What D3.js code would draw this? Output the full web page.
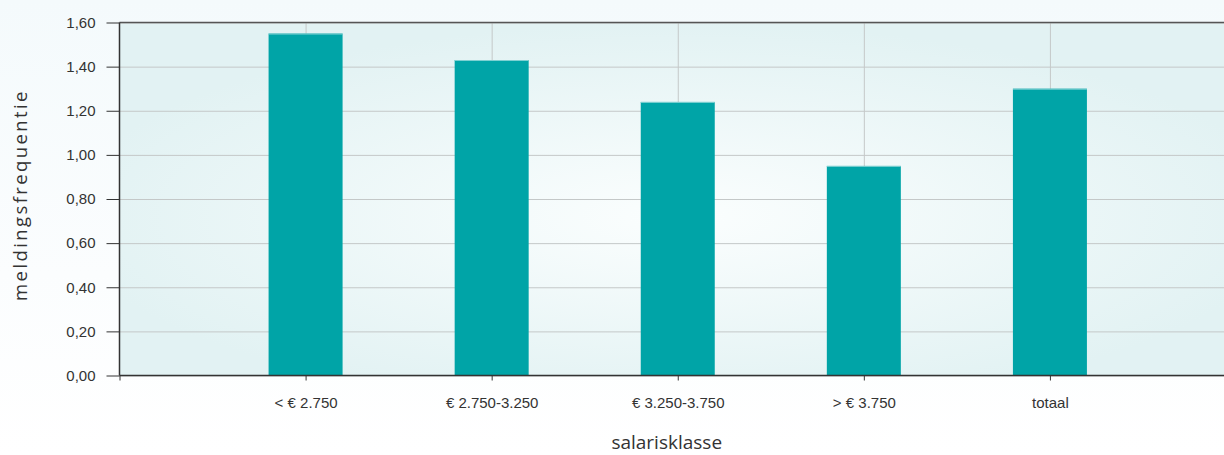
<!DOCTYPE html>
<html>
<head>
    <meta charset="utf-8">
    <script src="https://d3js.org/d3.v7.min.js"></script>
    <style>
        body { margin: 0; background: #ffffff; }
        svg { display: block; font-family: "Open Sans", "DejaVu Sans", sans-serif; }
        .grid line { stroke: #c4c8c8; stroke-width: 1; }
        .grid .domain { display: none; }
        .axis text { fill: #333; font-size: 15px; }
        .axis line, .axis path { stroke: #333; }
    </style>
</head>
<body>
<script>
    // salarisklassen en meldingsfrequentie
    const categories = ["< € 2.750", "€ 2.750-3.250", "€ 3.250-3.750", "> € 3.750", "totaal"];
    const values = [1.55, 1.43, 1.24, 0.95, 1.30];
    const yTicks = [0, 0.2, 0.4, 0.6, 0.8, 1.0, 1.2, 1.4, 1.6];

    const width = 1224, height = 455;
    const margin = {top: 22.5, left: 119.5, bottom: 79.5};
    const plotRight = 1236;

    const svg = d3.select("body").append("svg")
        .attr("width", width)
        .attr("height", height);

    const defs = svg.append("defs");
    const pageGrad = defs.append("linearGradient").attr("id", "pagebg")
        .attr("x1", 0).attr("y1", 0).attr("x2", 0).attr("y2", 1);
    pageGrad.append("stop").attr("offset", "0%").attr("stop-color", "#f4fafc");
    pageGrad.append("stop").attr("offset", "60%").attr("stop-color", "#fbfdfe");
    pageGrad.append("stop").attr("offset", "100%").attr("stop-color", "#ffffff");

    const plotGrad = defs.append("radialGradient").attr("id", "plotbg")
        .attr("cx", "50%").attr("cy", "55%").attr("r", "55%");
    plotGrad.append("stop").attr("offset", "0%").attr("stop-color", "#fbfefe");
    plotGrad.append("stop").attr("offset", "100%").attr("stop-color", "#e2f2f3");

    svg.append("rect").attr("width", width).attr("height", height).attr("fill", "url(#pagebg)");

    const x = d3.scaleLinear().domain([0, categories.length + 1]).range([margin.left, plotRight]);
    const y = d3.scaleLinear().domain([0, 1.6]).range([height - margin.bottom, margin.top]);

    svg.append("rect")
        .attr("x", margin.left).attr("y", margin.top)
        .attr("width", plotRight - margin.left)
        .attr("height", y(0) - margin.top)
        .attr("fill", "url(#plotbg)");

    // horizontale rasterlijnen
    svg.append("g")
        .attr("class", "grid")
        .attr("transform", `translate(${margin.left},0)`)
        .call(d3.axisLeft(y).tickValues(yTicks).tickSize(-(plotRight - margin.left)).tickFormat(""));

    // verticale rasterlijnen
    svg.append("g")
        .attr("class", "grid")
        .attr("transform", `translate(0,${y(0)})`)
        .call(d3.axisBottom(x).tickValues(d3.range(1, categories.length + 1))
            .tickSize(-(y(0) - margin.top)).tickFormat(""));

    const barW = 74;
    const bars = svg.append("g");
    bars.selectAll("rect.bar")
        .data(values)
        .join("rect")
        .attr("class", "bar")
        .attr("x", (d, i) => x(i + 1) - barW / 2)
        .attr("y", d => y(d))
        .attr("width", barW)
        .attr("height", d => y(0) - y(d))
        .attr("fill", "#00a4a7");
    bars.selectAll("rect.edge")
        .data(values)
        .join("rect")
        .attr("class", "edge")
        .attr("x", (d, i) => x(i + 1) - barW / 2)
        .attr("y", d => y(d))
        .attr("width", barW)
        .attr("height", 1)
        .attr("fill", "#7fd0d2");

    // top rand
    svg.append("line")
        .attr("x1", margin.left).attr("x2", width)
        .attr("y1", margin.top).attr("y2", margin.top)
        .attr("stroke", "#555").attr("stroke-width", 1.5);

    // y-as
    const yAxis = svg.append("g")
        .attr("class", "axis")
        .attr("transform", `translate(${margin.left},0)`)
        .call(d3.axisLeft(y).tickValues(yTicks).tickSize(13).tickPadding(11)
            .tickFormat(d => d3.format(".2f")(d).replace(".", ",")));
    yAxis.select(".domain").attr("d", `M0,${margin.top}V${y(0)}`).attr("stroke-width", 1.5);

    // x-as
    const xAxis = svg.append("g")
        .attr("class", "axis")
        .attr("transform", `translate(0,${y(0)})`)
        .call(d3.axisBottom(x).tickValues(d3.range(0, categories.length + 1)).tickSize(5).tickPadding(17)
            .tickFormat(d => d === 0 ? "" : categories[d - 1]));
    xAxis.select(".domain").attr("d", `M${margin.left},0H${width}`).attr("stroke-width", 1.5);
    xAxis.selectAll(".tick line").attr("stroke", "#555");

    svg.append("text")
        .attr("x", (margin.left + plotRight) / 2 - 11)
        .attr("y", 449)
        .attr("text-anchor", "middle")
        .attr("fill", "#333")
        .attr("font-size", "19px")
        .text("salarisklasse");

    svg.append("text")
        .attr("transform", "translate(27,195) rotate(-90)")
        .attr("text-anchor", "middle")
        .attr("fill", "#333")
        .attr("font-size", "18.5px")
        .attr("letter-spacing", "2.4px")
        .text("meldingsfrequentie");
</script>
</body>
</html>
